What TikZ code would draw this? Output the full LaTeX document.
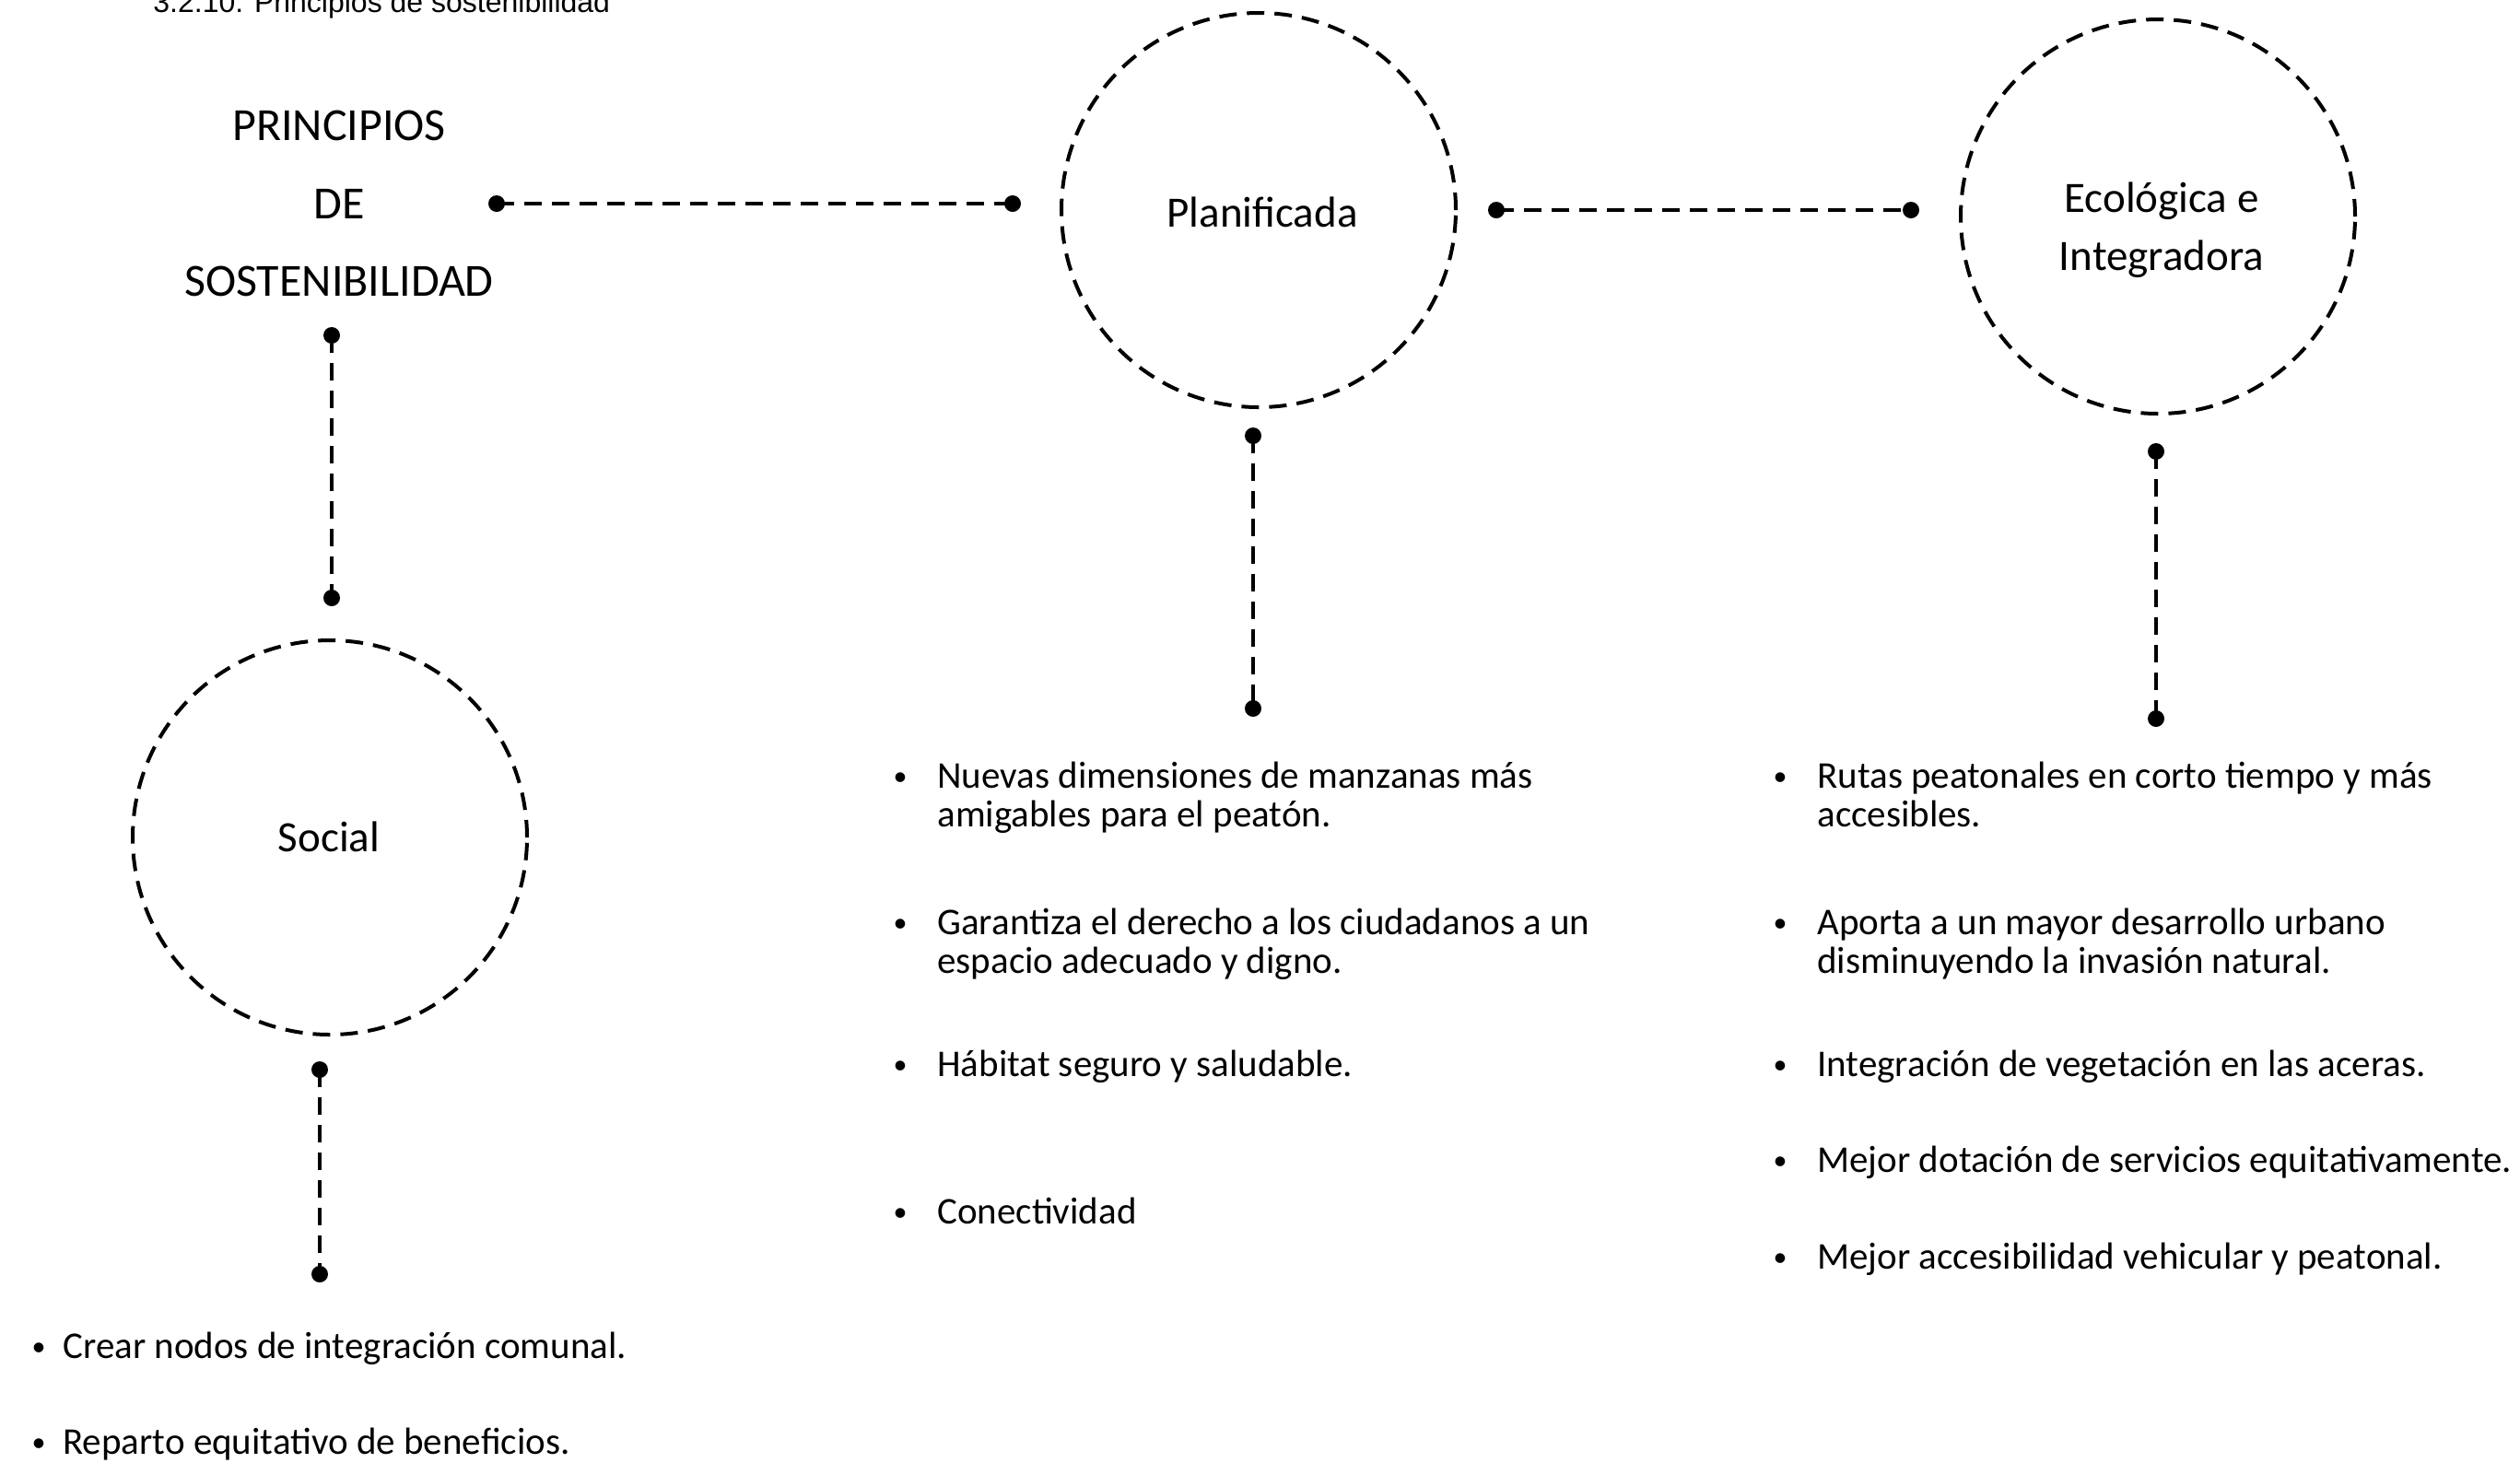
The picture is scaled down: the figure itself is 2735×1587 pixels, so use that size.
\documentclass[tikz,border=0pt]{standalone}
\usepackage{fontspec}
\setmainfont{Carlito}
\newfontfamily\mycapfont{Liberation Sans}
\newcommand{\myitemfont}{\fontsize{20.5pt}{21pt}\selectfont}
\newcommand{\mybulfont}{\fontsize{15pt}{16pt}\selectfont}
\newcommand{\mytitlefont}{\fontsize{25pt}{30pt}\selectfont}
\newcommand{\mycircfont}{\fontsize{23.5pt}{31.5pt}\selectfont}
\begin{document}
\begin{tikzpicture}[x=0.5pt,y=-0.5pt,
  conn/.style={line width=2pt, dash pattern=on 9.5pt off 5.5pt},
  dot/.style={circle, fill=black, inner sep=0pt, minimum size=9pt},
  ring/.style={circle, draw, line width=2pt, dash pattern=on 9.5pt off 5.5pt,
    minimum size=214pt, inner sep=0pt, align=center, font=\mycircfont},
  lbl/.style={inner sep=0pt, align=center, font=\mycircfont},
  ttl/.style={anchor=base, inner sep=0pt, font=\mytitlefont},
  itm/.style={anchor=base west, inner sep=0pt, font=\myitemfont},
  bul/.style={anchor=base, inner sep=0pt, font=\mybulfont, yshift=1.5pt}]
\fill[white] (0,0) rectangle (2735,1587);
\useasboundingbox (0,0) rectangle (2735,1587);

% caption
\node[anchor=base west, inner sep=0pt, font=\mycapfont\fontsize{16pt}{18pt}\selectfont] (cap) at (166,13) {3.2.10. Principios de sostenibilidad};

% title
\node[ttl] (t1) at (368,152) {PRINCIPIOS};
\node[ttl] (t2) at (368,237) {DE};
\node[ttl] (t3) at (368,321) {SOSTENIBILIDAD};

% circles
\node[ring] (plan) at (1366,228) {};
\node[lbl] (planl) at (1370,230) {Planificada};
\node[ring] (eco) at (2342,235) {};
\node[lbl] (ecol) at (2346,250) {Ecológica e\\Integradora};
\node[ring] (soc) at (358,909) {};
\node[lbl] (socl) at (357,908) {Social};

% dots
\node[dot] (d1) at (539,221) {};
\node[dot] (d2) at (1099,221) {};
\node[dot] (d3) at (1624,228) {};
\node[dot] (d4) at (2074,228) {};
\node[dot] (d5) at (360,364) {};
\node[dot] (d6) at (360,649) {};
\node[dot] (d7) at (347,1161) {};
\node[dot] (d8) at (347,1383) {};
\node[dot] (d9) at (1360,473) {};
\node[dot] (d10) at (1360,769) {};
\node[dot] (d11) at (2340,490) {};
\node[dot] (d12) at (2340,780) {};

% connectors
\draw[conn] (d1.center) -- (d2.center);
\draw[conn] (d3.center) -- (d4.center);
\draw[conn] (d5.center) -- (d6.center);
\draw[conn] (d7.center) -- (d8.center);
\draw[conn] (d9.center) -- (d10.center);
\draw[conn] (d11.center) -- (d12.center);

% left bullets
\node[bul] (lb1) at (42,1474) {•};
\node[itm] (l1) at (68,1474) {Crear nodos de integración comunal.};
\node[bul] (lb2) at (42,1578) {•};
\node[itm] (l2) at (68,1578) {Reparto equitativo de beneficios.};

% middle bullets
\node[bul] (mb1) at (977,855) {•};
\node[itm] (m1a) at (1017,855) {Nuevas dimensiones de manzanas más};
\node[itm] (m1b) at (1017,897) {amigables para el peatón.};
\node[bul] (mb2) at (977,1014) {•};
\node[itm] (m2a) at (1017,1014) {Garantiza el derecho a los ciudadanos a un};
\node[itm] (m2b) at (1017,1056) {espacio adecuado y digno.};
\node[bul] (mb3) at (977,1168) {•};
\node[itm] (m3) at (1017,1168) {Hábitat seguro y saludable.};
\node[bul] (mb4) at (977,1328) {•};
\node[itm] (m4) at (1017,1328) {Conectividad};

% right bullets
\node[bul] (rb1) at (1932,855) {•};
\node[itm] (r1a) at (1972,855) {Rutas peatonales en corto tiempo y más};
\node[itm] (r1b) at (1972,897) {accesibles.};
\node[bul] (rb2) at (1932,1014) {•};
\node[itm] (r2a) at (1972,1014) {Aporta a un mayor desarrollo urbano};
\node[itm] (r2b) at (1972,1056) {disminuyendo la invasión natural.};
\node[bul] (rb3) at (1932,1168) {•};
\node[itm] (r3) at (1972,1168) {Integración de vegetación en las aceras.};
\node[bul] (rb4) at (1932,1272) {•};
\node[itm] (r4) at (1972,1272) {Mejor dotación de servicios equitativamente.};
\node[bul] (rb5) at (1932,1377) {•};
\node[itm] (r5) at (1972,1377) {Mejor accesibilidad vehicular y peatonal.};
\end{tikzpicture}
\end{document}
